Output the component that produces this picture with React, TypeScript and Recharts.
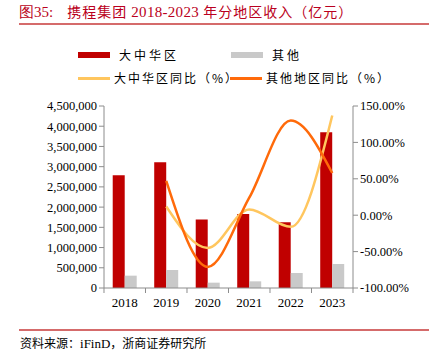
import React from "react";
import { ComposedChart, Bar, Line, XAxis, YAxis } from "recharts";

const years = ["2018", "2019", "2020", "2021", "2022", "2023"];
const greaterChina = [2790000, 3110000, 1692000, 1832000, 1625000, 3853000];
const others = [305000, 445000, 132000, 165000, 371000, 594000];
const greaterChinaYoY: (number | null)[] = [null, 12, -45, 8, -16, 137];
const othersYoY: (number | null)[] = [null, 47, -71, 24, 130, 58];
const leftTicks = [0, 500000, 1000000, 1500000, 2000000, 2500000, 3000000, 3500000, 4000000, 4500000];
const rightTicks = [-100, -50, 0, 50, 100, 150];

const data = years.map((y, i) => ({
  year: y,
  gc: greaterChina[i],
  ot: others[i],
  gcY: greaterChinaYoY[i],
  otY: othersYoY[i],
}));

const RED = "#C00000";
const GRAY = "#C9C9C9";
const YELLOW = "#FFC65E";
const ORANGE = "#FF6A0A";
const AXIS = "#8C8C8C";
const SERIF = "'Liberation Serif', 'Times New Roman', serif";
const CJK = "'Noto Sans CJK SC', sans-serif";

const fmtNum = (v: number) => v.toLocaleString("en-US");
const fmtPct = (v: number) => v.toFixed(2) + "%";

const XTick = (props: any) => {
  const { x, y, payload, index } = props;
  const half = 41.53 / 2;
  return (
    <g>
      <line x1={x - half} x2={x - half} y1={y - 8} y2={y - 3} stroke={AXIS} />
      {index === years.length - 1 && (
        <line x1={x + half} x2={x + half} y1={y - 8} y2={y - 3} stroke={AXIS} />
      )}
      <text x={x} y={y + 11} textAnchor="middle" fontFamily={SERIF} fontSize={13} fill="#000">
        {payload.value}
      </text>
    </g>
  );
};

const LegendBlock = () => {
  const txt: React.CSSProperties = {
    position: "absolute",
    fontFamily: CJK,
    fontSize: 12,
    letterSpacing: 3,
    color: "#000",
    lineHeight: "14px",
    whiteSpace: "nowrap",
  };
  return (
    <div style={{ position: "absolute", left: 0, top: 0, width: 436, height: 100 }}>
      <div style={{ position: "absolute", left: 78, top: 52, width: 32, height: 6, background: RED }} />
      <div style={{ ...txt, left: 119, top: 48 }}>大中华区</div>
      <div style={{ position: "absolute", left: 231, top: 52, width: 32, height: 6, background: GRAY }} />
      <div style={{ ...txt, left: 272, top: 48 }}>其他</div>
      <div style={{ position: "absolute", left: 78, top: 77, width: 32, height: 3, background: YELLOW }} />
      <div style={{ ...txt, left: 114, top: 71, letterSpacing: 2 }}>大中华区同比（%）</div>
      <div style={{ position: "absolute", left: 230, top: 77, width: 32, height: 3, background: ORANGE }} />
      <div style={{ ...txt, left: 266, top: 71, letterSpacing: 2 }}>其他地区同比（%）</div>
    </div>
  );
};

export default function App() {
  return (
    <div style={{ position: "absolute", left: 0, top: 0, width: 436, height: 356, background: "#fff" }}>
      <div
        style={{
          position: "absolute",
          left: 19,
          top: 2,
          fontFamily: CJK,
          fontSize: 14,
          color: "#BA0020",
          whiteSpace: "nowrap",
          lineHeight: "18px",
        }}
      >
        <span style={{ fontFamily: SERIF, fontSize: 15 }}>图35:</span>
        <span style={{ marginLeft: 14, letterSpacing: 1 }}>携程集团 </span>
        <span style={{ fontFamily: SERIF, fontSize: 15, letterSpacing: 0.3 }}>2018-2023</span>
        <span style={{ letterSpacing: 1 }}> 年分地区收入（亿元）</span>
      </div>
      <div style={{ position: "absolute", left: 19, top: 23, width: 410, height: 1.5, background: "#D56B6B" }} />
      <LegendBlock />
      <div style={{ position: "absolute", left: 0, top: 0 }}>
        <ComposedChart
          width={436}
          height={356}
          data={data}
          margin={{ top: 106, right: 0, bottom: 38, left: 0 }}
          barGap={0}
          barCategoryGap="21%"
        >
          <XAxis
            dataKey="year"
            height={30}
            axisLine={{ stroke: AXIS }}
            tickLine={false}
            tick={<XTick />}
            interval={0}
          />
          <YAxis
            yAxisId="left"
            orientation="left"
            width={104}
            domain={[0, 4500000]}
            ticks={leftTicks}
            tickFormatter={fmtNum}
            axisLine={{ stroke: AXIS }}
            tickLine={{ stroke: AXIS }}
            tickSize={5}
            tick={{ fontFamily: SERIF, fontSize: 12.5, fill: "#000" }}
            interval={0}
          />
          <YAxis
            yAxisId="right"
            orientation="right"
            width={83}
            domain={[-100, 150]}
            ticks={rightTicks}
            tickFormatter={fmtPct}
            axisLine={{ stroke: AXIS }}
            tickLine={{ stroke: AXIS }}
            tickSize={5}
            tick={{ fontFamily: SERIF, fontSize: 12.5, fill: "#000" }}
            interval={0}
          />
          <Bar yAxisId="left" dataKey="gc" name="大中华区" fill={RED} isAnimationActive={false} />
          <Bar yAxisId="left" dataKey="ot" name="其他" fill={GRAY} isAnimationActive={false} />
          <Line
            yAxisId="right"
            dataKey="gcY"
            name="大中华区同比（%）"
            type="monotone"
            stroke={YELLOW}
            strokeWidth={2.5}
            dot={false}
            isAnimationActive={false}
          />
          <Line
            yAxisId="right"
            dataKey="otY"
            name="其他地区同比（%）"
            type="monotone"
            stroke={ORANGE}
            strokeWidth={2.5}
            dot={false}
            isAnimationActive={false}
          />
        </ComposedChart>
      </div>
      <div style={{ position: "absolute", left: 19, top: 329, width: 410, height: 1.5, background: "#D56B6B" }} />
      <div
        style={{
          position: "absolute",
          left: 20,
          top: 336,
          fontFamily: CJK,
          fontSize: 12,
          color: "#000",
          whiteSpace: "nowrap",
          lineHeight: "14px",
        }}
      >
        资料来源：<span style={{ fontFamily: SERIF, fontSize: 13 }}>iFinD</span>，浙商证券研究所
      </div>
    </div>
  );
}
